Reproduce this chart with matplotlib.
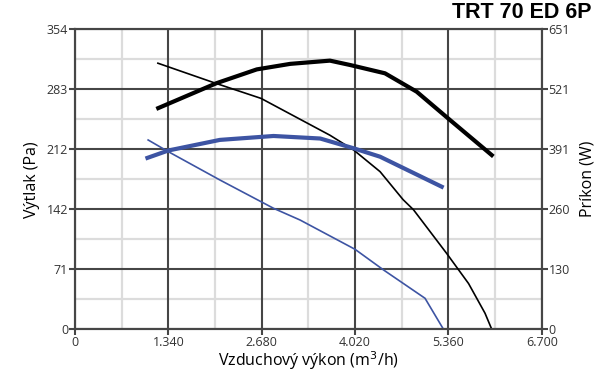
import numpy as np
import matplotlib
matplotlib.use("Agg")
import matplotlib.pyplot as plt

# ---- data ----
title = "TRT 70 ED 6P"
x_ticks = [0, 1340, 2680, 4020, 5360, 6700]
x_tick_labels = ["0", "1.340", "2.680", "4.020", "5.360", "6.700"]
y_left_max = 354
y_left_labels = ["0", "71", "142", "212", "283", "354"]
y_right_max = 651
y_right_labels = ["0", "130", "260", "391", "521", "651"]

# pressure curve, high speed (Pa)
p_hi_x = [1190, 2030, 2670, 3660, 4000, 4380, 4710, 4860, 5336, 5650, 5886, 5983]
p_hi_y = [314, 290, 272.5, 229, 211.6, 186, 153, 141, 89.5, 54, 19, 0]
# power curve, high speed (W)
w_hi_x = [1195, 2030, 2610, 3090, 3660, 3950, 4450, 4905, 5385, 5983]
w_hi_y = [480, 534, 564, 576, 583, 573.5, 555.5, 515.6, 454, 378]
# pressure curve, low speed (Pa)
p_lo_x = [1050, 1340, 2080, 2850, 3230, 4020, 4430, 5025, 5290]
p_lo_y = [223.4, 209.6, 176.2, 142.8, 129, 94.4, 70, 36.6, 0]
# power curve, low speed (W)
w_lo_x = [1040, 1340, 2080, 2850, 3520, 4000, 4380, 5265]
w_lo_y = [372, 388, 411, 419.5, 414, 392.8, 374.5, 309.4]

# ---- figure ----
fig = plt.figure(figsize=(6.08, 3.74), dpi=100)
ax = fig.add_axes([75/608, 1-329.3/374, (541.7-75)/608, 300/374])
ax2 = ax.twinx()

grid_dark = "#464646"
grid_light = "#dcdcdc"
txt = "#333333"
blue = "#3d54a3"

ax.set_xlim(0, 6700)
ax.set_ylim(0, y_left_max)
ax2.set_ylim(0, y_right_max)

# minor grid
for xv in np.arange(670, 6700, 1340):
    ax.axvline(xv, color=grid_light, lw=1.6, zorder=0)
for yv in np.linspace(0, y_left_max, 11)[1::2]:
    ax.axhline(yv, color=grid_light, lw=1.6, zorder=0)
# major grid
for xv in x_ticks:
    ax.axvline(xv, color=grid_dark, lw=1.5, zorder=1)
for yv in np.linspace(0, y_left_max, 6):
    ax.axhline(yv, color=grid_dark, lw=1.5, zorder=1)

fs_tick = 9
ax.set_xticks(x_ticks)
ax.set_xticklabels(x_tick_labels, fontsize=fs_tick, color=txt, family="Open Sans")
ax.set_yticks(np.linspace(0, y_left_max, 6))
ax.set_yticklabels(y_left_labels, fontsize=fs_tick, color=txt, family="Open Sans")
ax2.set_yticks(np.linspace(0, y_right_max, 6))
ax2.set_yticklabels(y_right_labels, fontsize=fs_tick, color=txt, family="Open Sans")
ax.tick_params(axis="both", direction="out", length=4, width=1.5, color=grid_dark, pad=1)
ax2.tick_params(axis="y", direction="out", length=4, width=1.5, color=grid_dark, pad=1)

for a in (ax, ax2):
    for s in a.spines.values():
        s.set_color(grid_dark)
        s.set_linewidth(1.5)

# curves
ax.plot(p_hi_x, p_hi_y, color="black", lw=1.2, zorder=3, solid_joinstyle="round")
ax2.plot(w_hi_x, w_hi_y, color="black", lw=3.0, zorder=3, solid_joinstyle="round")
ax.plot(p_lo_x, p_lo_y, color=blue, lw=1.2, zorder=3, solid_joinstyle="round")
ax2.plot(w_lo_x, w_lo_y, color=blue, lw=3.0, zorder=3, solid_joinstyle="round")

ax.set_xlabel("Vzduchový výkon (m$^3$/h)", fontsize=11.5, color="black",
              family="Open Sans", labelpad=0)
ax.set_ylabel("Výtlak (Pa)", fontsize=11.5, color="black", family="Open Sans", labelpad=5)
ax2.set_ylabel("Príkon (W)", fontsize=11.5, color="black", family="Open Sans", labelpad=7)

fig.text(592/608, 1-13/374, title, ha="right", va="center", fontsize=15.5,
         fontweight="bold", family="Liberation Sans")

fig.savefig("out.png", dpi=100)
